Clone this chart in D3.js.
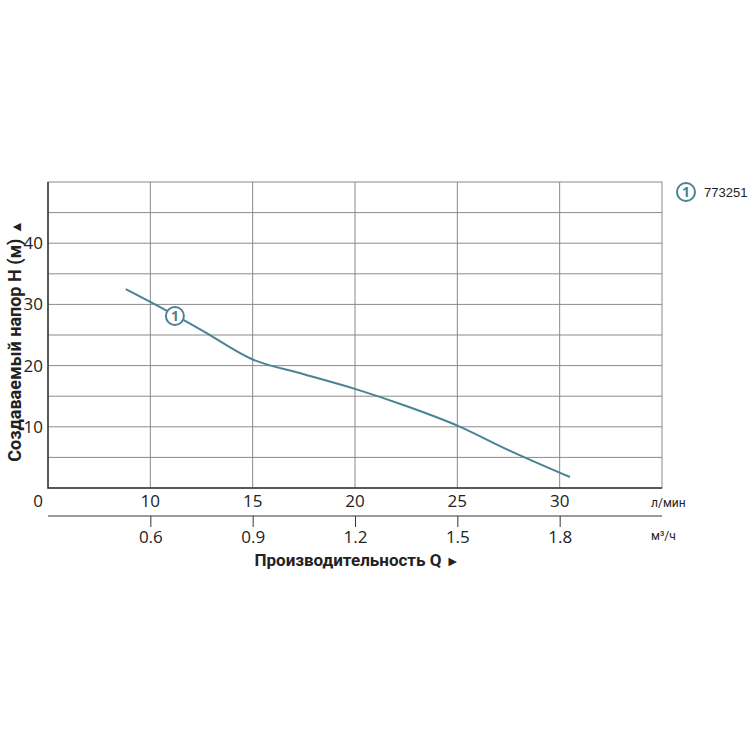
<!DOCTYPE html>
<html>
<head>
<meta charset="utf-8">
<script src="https://cdn.jsdelivr.net/npm/d3@7"></script>
<style>
  body { margin: 0; background: #fff; }
  text { font-family: "Open Sans", "DejaVu Sans", sans-serif; }
</style>
</head>
<body>
<div class="canvas"></div>
<script>
// flow in л/мин, head in м
const flowLpm = [8.8, 10, 12.5, 15, 17.5, 20, 22.5, 25, 27.5, 30.5]
const headM = [32.5, 30.4, 25.8, 21.0, 18.6, 16.2, 13.4, 10.2, 6.2, 1.8]
const lpmTicks = [10, 15, 20, 25, 30]
const m3hTicks = [0.6, 0.9, 1.2, 1.5, 1.8]
const headTicks = [10, 20, 30, 40]
const modelName = '773251'

const lineColor = '#4a8393'
const gridColor = '#8a8a8a'
const darkColor = '#3b3530'

const svg = d3.select('.canvas').append('svg')
    .attr('width', 750)
    .attr('height', 750)

const plotL = 48, plotR = 662, plotT = 182, plotB = 488

const x = d3.scaleLinear().domain([5, 35]).range([plotL, plotR])
const y = d3.scaleLinear().domain([0, 50]).range([plotB, plotT])
// m3/h scale: 1 л/мин = 0.06 м³/ч
const x2 = d3.scaleLinear().domain([5 * 0.06, 35 * 0.06]).range([plotL, plotR])

// grid
svg.append('g')
  .selectAll('line')
  .data(d3.range(5, 50, 5))
  .join('line')
    .attr('x1', plotL).attr('x2', plotR)
    .attr('y1', d => y(d)).attr('y2', d => y(d))
    .attr('stroke', gridColor)
    .attr('stroke-width', 1)

svg.append('g')
  .selectAll('line')
  .data(lpmTicks)
  .join('line')
    .attr('x1', d => x(d)).attr('x2', d => x(d))
    .attr('y1', plotT).attr('y2', plotB)
    .attr('stroke', gridColor)
    .attr('stroke-width', 1)

// frame
svg.append('rect')
    .attr('x', plotL).attr('y', plotT)
    .attr('width', plotR - plotL).attr('height', plotB - plotT)
    .attr('fill', 'none')
    .attr('stroke', gridColor)
    .attr('stroke-width', 1)
svg.append('path')
    .attr('d', `M${plotL},${plotT}V${plotB}H${plotR}`)
    .attr('fill', 'none')
    .attr('stroke', darkColor)
    .attr('stroke-width', 1.5)

// y tick labels
svg.append('g')
  .selectAll('text')
  .data(headTicks)
  .join('text')
    .attr('x', 43)
    .attr('y', d => y(d) + 6)
    .attr('text-anchor', 'end')
    .attr('font-size', 17)
    .attr('fill', '#222')
    .text(d => d)

// л/мин labels
svg.append('text')
    .attr('x', 38).attr('y', 507)
    .attr('text-anchor', 'middle')
    .attr('font-size', 17).attr('fill', '#222')
    .text('0')
svg.append('g')
  .selectAll('text')
  .data(lpmTicks)
  .join('text')
    .attr('x', d => x(d))
    .attr('y', 507)
    .attr('text-anchor', 'middle')
    .attr('font-size', 17)
    .attr('fill', '#222')
    .text(d => d)
svg.append('text')
    .attr('x', 651).attr('y', 507)
    .attr('font-size', 12).attr('fill', '#222')
    .style('font-family', 'Roboto')
    .text('л/мин')

// second axis м³/ч
const ax2 = d3.axisBottom(x2).tickValues(m3hTicks).tickSize(11).tickFormat(d3.format('.1f'))
const g2 = svg.append('g')
    .attr('transform', 'translate(0,516)')
    .call(ax2)
g2.select('.domain').remove()
g2.append('line').attr('x1', plotL).attr('x2', plotR).attr('stroke', darkColor).attr('stroke-width', 1.2)
g2.selectAll('.tick line').attr('stroke', darkColor)
g2.selectAll('.tick text')
    .attr('y', 13)
    .attr('dy', '0.85em')
    .attr('font-size', 17)
    .attr('fill', '#222')
    .style('font-family', '"Open Sans", sans-serif')
svg.append('text')
    .attr('x', 651).attr('y', 540)
    .attr('font-size', 12).attr('fill', '#222')
    .style('font-family', 'Roboto')
    .text('м³/ч')

// axis titles
const xTitle = svg.append('text')
    .attr('x', 357).attr('y', 566)
    .attr('text-anchor', 'middle')
    .attr('font-size', 17).attr('font-weight', 'bold')
    .attr('fill', '#222')
    .style('font-family', 'Roboto')
xTitle.append('tspan').text('Производительность Q ')
xTitle.append('tspan').attr('font-size', 14).text('►')

const yTitle = svg.append('text')
    .attr('transform', 'translate(21,341) rotate(-90)')
    .attr('text-anchor', 'middle')
    .attr('font-size', 18).attr('font-weight', 'bold')
    .attr('fill', '#222')
    .style('font-family', 'Roboto')
yTitle.append('tspan').text('Создаваемый напор H (м) ')
yTitle.append('tspan').attr('font-size', 14).text('▲')

// curve
const pts = flowLpm.map((f, i) => [f, headM[i]])
svg.append('path')
    .datum(pts)
    .attr('d', d3.line().x(d => x(d[0])).y(d => y(d[1])).curve(d3.curveMonotoneX))
    .attr('fill', 'none')
    .attr('stroke', lineColor)
    .attr('stroke-width', 2)

// curve marker "1"
function marker(cx, cy) {
  svg.append('circle')
      .attr('cx', cx).attr('cy', cy).attr('r', 9)
      .attr('fill', '#fff')
      .attr('stroke', lineColor)
      .attr('stroke-width', 2)
  svg.append('text')
      .attr('x', cx).attr('y', cy + 5)
      .attr('text-anchor', 'middle')
      .attr('font-size', 14).attr('font-weight', 'bold')
      .attr('fill', lineColor)
      .text('1')
}
marker(x(11.2), y(28.1))

// legend
marker(686, 192)
svg.append('text')
    .attr('x', 704).attr('y', 197)
    .attr('font-size', 13).attr('fill', '#222')
    .style('font-family', 'Liberation Sans')
    .text(modelName)
</script>
</body>
</html>
